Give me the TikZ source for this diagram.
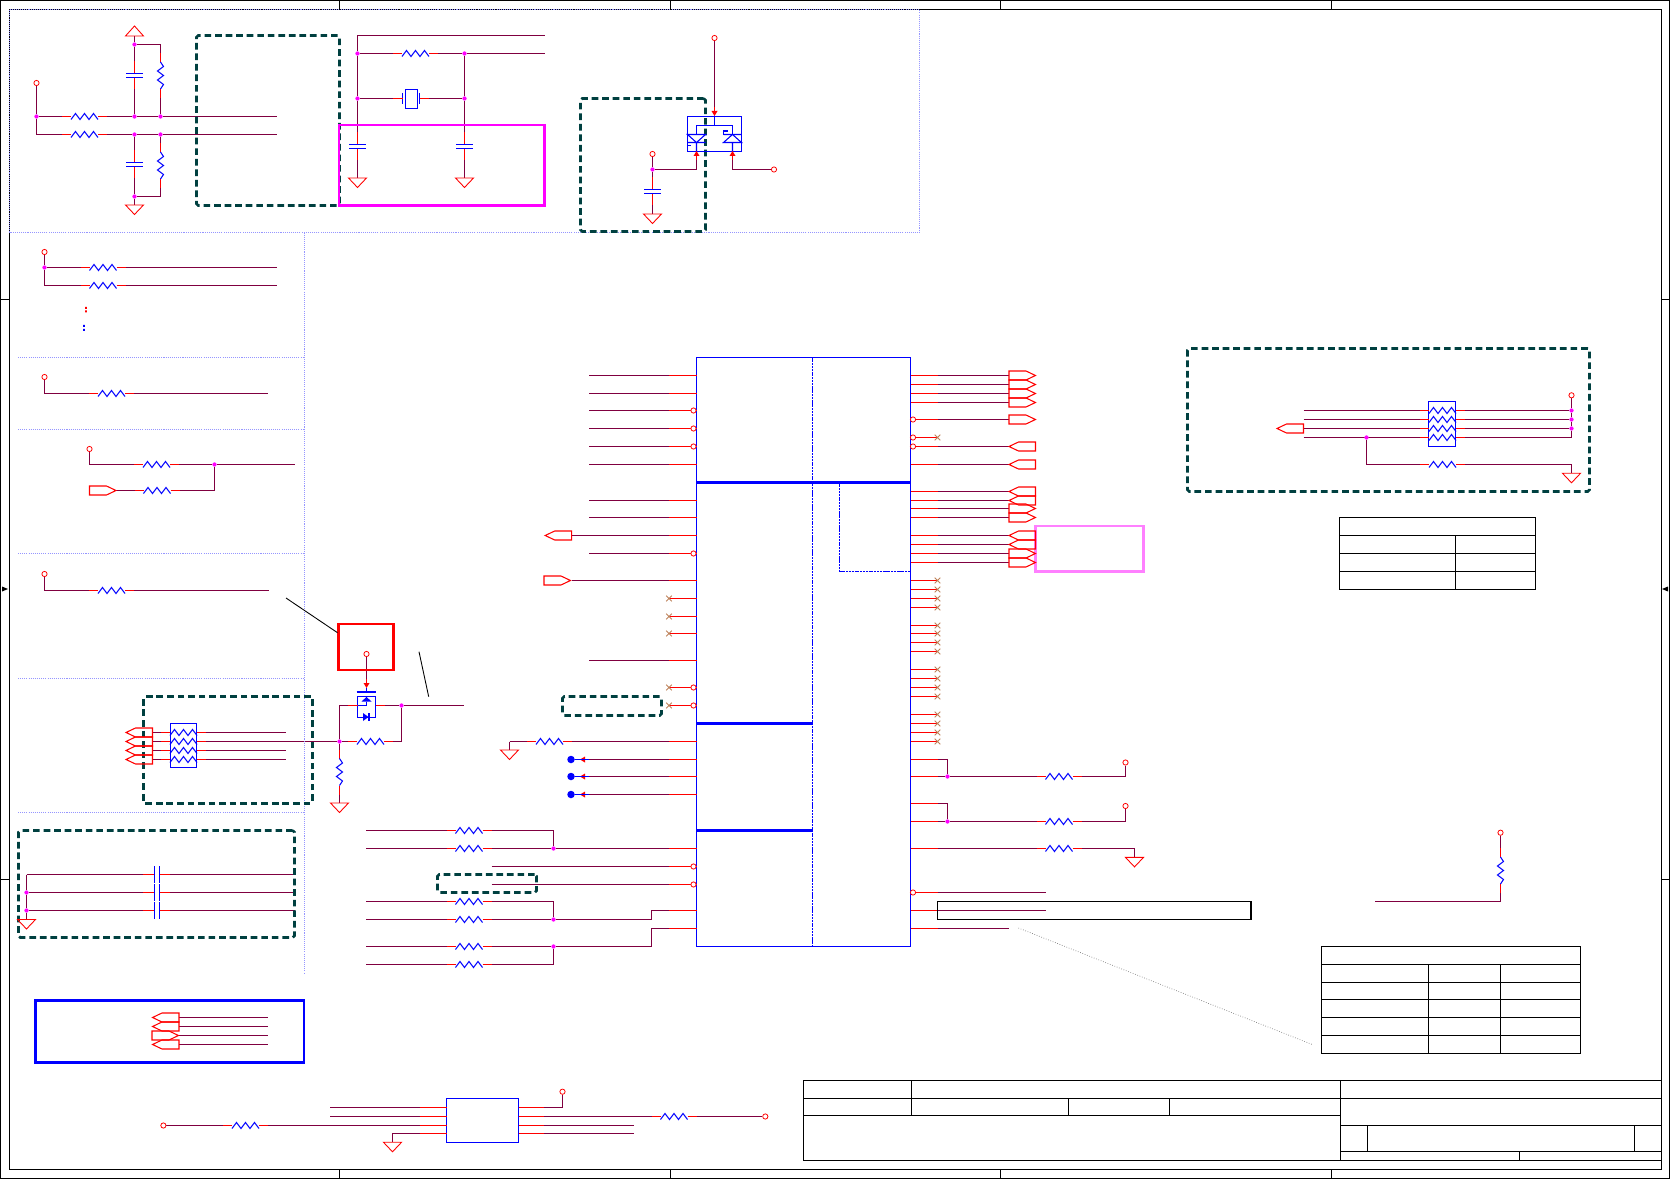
\documentclass[tikz,border=0pt]{standalone}
\usepackage{xcolor}
\usepackage{tikz}
\definecolor{wirec} {RGB} {128, 0, 64}
\definecolor{dashc} {RGB} {0, 64, 64}
\definecolor{dotc} {RGB} {150, 150, 255}
\definecolor{magc} {RGB} {255, 0, 255}
\definecolor{pinkc} {RGB} {255, 128, 255}
\definecolor{ncc} {RGB} {190, 130, 90}
\usetikzlibrary{fit,backgrounds}
\tikzstyle{sch}=[x=0.02cm, y=-0.02cm]
\tikzstyle{wire}=[line width=0.6pt, wirec]
\tikzstyle{pinw}=[line width=0.6pt, red]
\tikzstyle{partl}=[line width=0.6pt, blue]
\tikzstyle{blackl}=[line width=0.6pt, black]
\tikzstyle{dotl}=[line width=0.6pt, dotc, dash pattern=on 0.6pt off 0.6pt]
\tikzstyle{junct}=[circle, fill=magc, inner sep=0pt, minimum size=0.085cm]
\tikzstyle{term}=[circle, draw=red, fill=white, line width=0.45pt, inner sep=0pt, minimum size=0.105cm]
\tikzstyle{bdot}=[circle, fill=blue, inner sep=0pt, minimum size=0.15cm]
\tikzstyle{bbox}=[draw, inner sep=0pt, outer sep=0pt]
\tikzstyle{framebox}=[bbox, line width=0.6pt, black]
\tikzstyle{chipbox}=[bbox, line width=0.6pt, blue]
\tikzstyle{dashbox}=[bbox, line width=1.5pt, dashc, dash pattern=on 3.8pt off 2.2pt, rounded corners=1pt]
\tikzstyle{hotbox}=[bbox, line width=1.7pt]
\tikzset{
  pics/hres/.style={code={
    \draw [pinw] (-22.5,0) -- (-13.5,0) (13.5,0) -- (22.5,0);
    \draw [partl] (-13.5,3) -- (-9,-3) -- (-4.5,3) -- (0,-3) -- (4.5,3) -- (9,-3) -- (13.5,3);
    \coordinate (-a) at (-22.5,0);
    \coordinate (-b) at (22.5,0);
  }},
  pics/vres/.style={code={
    \draw [pinw] (0,-22.5) -- (0,-13.5) (0,13.5) -- (0,22.5);
    \draw [partl] (0,-13.5) -- (3,-9) -- (-3,-4.5) -- (3,0) -- (-3,4.5) -- (3,9) -- (0,13.5);
    \coordinate (-a) at (0,-22.5);
    \coordinate (-b) at (0,22.5);
  }},
  pics/hcap/.style={code={
    \draw [pinw] (0,-14) -- (0,-2) (0,2) -- (0,14);
    \draw [partl] (-8.5,-2.2) -- (8.5,-2.2) (-8.5,2.2) -- (8.5,2.2);
    \coordinate (-a) at (0,-14);
    \coordinate (-b) at (0,14);
  }},
  pics/vcap/.style={code={
    \draw [pinw] (-13.5,0) -- (-2.5,0) (2.5,0) -- (13.5,0);
    \draw [partl] (-2.5,-8.5) -- (-2.5,8.5) (2.5,-8.5) -- (2.5,8.5);
    \coordinate (-a) at (-13.5,0);
    \coordinate (-b) at (13.5,0);
  }},
  pics/gnd/.style={code={
    \draw [line width=0.5pt, red] (-9,0) -- (9,0) -- (0,9.5) -- cycle;
    \coordinate (-t) at (0,0);
  }},
  pics/vcc/.style={code={
    \draw [line width=0.5pt, red] (-9,0) -- (9,0) -- (0,-10) -- cycle;
    \coordinate (-t) at (0,0);
  }},
  pics/portl/.style={code={
    \draw [line width=0.6pt, red] (0,-4.5) -- (-17,-4.5) -- (-26.5,0) -- (-17,4.5) -- (0,4.5) -- cycle;
    \coordinate (-w) at (0,0);
  }},
  pics/portr/.style={code={
    \draw [line width=0.6pt, red] (0,-4.5) -- (17,-4.5) -- (26.5,0) -- (17,4.5) -- (0,4.5) -- cycle;
    \coordinate (-w) at (26.5,0);
  }},
  pics/tipd/.style={code={
    \fill [red] (-3,-5) -- (3,-5) -- (0,0) -- cycle;
    \draw [pinw] (0,-9) -- (0,-4);
    \coordinate (-a) at (0,-9);
  }},
  pics/tipu/.style={code={
    \fill [red] (-3,5) -- (3,5) -- (0,0) -- cycle;
    \draw [pinw] (0,9) -- (0,4);
    \coordinate (-a) at (0,9);
  }},
  pics/tipl/.style={code={
    \fill [red] (0,0) -- (5,-3) -- (5,3) -- cycle;
    \draw [pinw] (4,0) -- (9,0);
    \coordinate (-a) at (9,0);
  }},
  pics/ncx/.style={code={
    \draw [line width=0.45pt, ncc] (-2.8,-2.8) -- (2.8,2.8) (-2.8,2.8) -- (2.8,-2.8);
  }}
}
\begin{document}
\begin{tikzpicture}[sch]
    \useasboundingbox (0,0) rectangle (1671,1179);
    \node (outer) [framebox, fit={(0.5,0.5)(1669.5,1178.5)}] {};
    \node (inner) [framebox, fit={(9.5,9.5)(1661.5,1169.5)}] {};
    \foreach \xx in {339.5,670.5,1000.5,1331.5} {
      \draw [blackl] (\xx,0.5) -- (\xx,9.5);
      \draw [blackl] (\xx,1169.5) -- (\xx,1178.5);
    }
    \foreach \yy in {299.5,879.5} {
      \draw [blackl] (0.5,\yy) -- (9.5,\yy);
      \draw [blackl] (1661.5,\yy) -- (1669.5,\yy);
    }
    \fill [black] (2,586.5) -- (2,591.5) -- (8,589) -- cycle;
    \fill [black] (1668,586.5) -- (1668,591.5) -- (1662,589) -- cycle;
    \draw [dotl] (9.5,9.5) -- (919.5,9.5) -- (919.5,232.5) -- (9.5,232.5) -- cycle;
    \draw [dotl] (304.5,232.5) -- (304.5,973);
    \foreach \yy in {357.5,429.5,553.5,678.5,812.5} {
      \draw [dotl] (18,\yy) -- (304.5,\yy);
    }
    \node (dash1) [dashbox, fit={(196.5,35.5)(339.5,205.5)}] {};
    \node (hot1) [hotbox, magc, fit={(339,125)(544.6,205.7)}] {};
    \node (dash2) [dashbox, fit={(580.5,98.5)(705.5,231.5)}] {};
    \node (hot2) [hotbox, red, fit={(338.6,624)(393.6,670)}] {};
    \node (dash3) [dashbox, fit={(143.5,696.5)(312.5,803.5)}] {};
    \node (dash4) [dashbox, fit={(18.5,830.5)(294.5,937.5)}] {};
    \node (dash5) [dashbox, fit={(562.5,696.5)(661.5,715.5)}] {};
    \node (dash6) [dashbox, fit={(437.5,874.5)(536.5,892.5)}] {};
    \node (dash7) [dashbox, fit={(1187.5,348.5)(1589.5,491.5)}] {};
    \node (hot3) [hotbox, pinkc, fit={(1035.5,526)(1143.5,571.5)}] {};
    \node (hot4) [hotbox, blue, fit={(35.5,1000.5)(304,1062.5)}] {};
    \pic (pw1) at (134.5,36) {vcc};
    \node (j1) [junct] at (134.5,44.5) {};
    \pic (c1) at (134.5,75.5) {hcap};
    \pic (r1) at (160.5,75.5) {vres};
    \node (t1) [term] at (36.5,83) {};
    \node (j4) [junct] at (36.5,116.5) {};
    \coordinate (k1) at (36.5,134.5);
    \pic (r2) at (84.5,116.5) {hres};
    \pic (r3) at (84.5,134.5) {hres};
    \node (j2) [junct] at (134.5,116.5) {};
    \node (j3) [junct] at (160.5,116.5) {};
    \node (j5) [junct] at (134.5,134.5) {};
    \node (j6) [junct] at (160.5,134.5) {};
    \coordinate (e1) at (277,116.5);
    \coordinate (e2) at (277,134.5);
    \pic (c2) at (134.5,164.5) {hcap};
    \pic (r4) at (160.5,165.5) {vres};
    \node (j7) [junct] at (134.5,196.5) {};
    \pic (g1) at (134.5,205) {gnd};
    \coordinate (e3) at (357.5,35.5);
    \coordinate (e4) at (545,35.5);
    \coordinate (e5) at (545,53.5);
    \node (j8) [junct] at (357.5,53.5) {};
    \node (j9) [junct] at (464.5,53.5) {};
    \node (j10) [junct] at (357.5,98.5) {};
    \node (j11) [junct] at (464.5,98.5) {};
    \pic (r5) at (415.5,53.5) {hres};
    \node (xtal) [chipbox, fit={(405.5,89.5)(417.5,108.5)}] {};
    \draw [partl] (402.5,93) -- (402.5,104) (419.5,93) -- (419.5,104);
    \coordinate (xa) at (393,98.5);
    \coordinate (xb) at (429,98.5);
    \draw [pinw] (xa) -- (402.5,98.5) (419.5,98.5) -- (xb);
    \pic (c3) at (357.5,146.5) {hcap};
    \pic (c4) at (464.5,146.5) {hcap};
    \pic (g2) at (357.5,178) {gnd};
    \pic (g3) at (464.5,178) {gnd};
    \node (t2) [term] at (714.5,38) {};
    \node (sw) [chipbox, fit={(687.5,116.5)(741.5,151.5)}] {};
    \pic (sa) at (714.5,116) {tipd};
    \pic (sb) at (696.5,151) {tipu};
    \pic (sc) at (732.5,151) {tipu};
    \draw [partl] (714.5,116) -- (714.5,125.5) (696.5,134.5) -- (696.5,125.5) -- (732.5,125.5) -- (732.5,134.5);
    \draw [partl] (687.5,134.5) -- (705.5,134.5) -- (696.5,142.5) -- cycle (687.5,142.5) -- (705.5,142.5) (696.5,142.5) -- (696.5,151);
    \draw [partl] (723.5,142.5) -- (741.5,142.5) -- (732.5,134.5) -- cycle (723.5,134.5) -- (741.5,134.5) (732.5,142.5) -- (732.5,151);
    \draw [partl] (687.5,145.5) -- (691,145.5) (728,134.5) -- (723.5,134.5) -- (723.5,131) -- (728,131);
    \node (t3) [term] at (652.5,154) {};
    \node (j12) [junct] at (652.5,169.5) {};
    \node (t4) [term] at (774,169.5) {};
    \pic (c5) at (652.5,191.5) {hcap};
    \pic (g4) at (652.5,214) {gnd};
    \node (t5) [term] at (44.5,252) {};
    \node (j13) [junct] at (44.5,267.5) {};
    \coordinate (k2) at (44.5,285.5);
    \pic (r6) at (103,267.5) {hres};
    \pic (r7) at (103,285.5) {hres};
    \coordinate (e6) at (277,267.5);
    \coordinate (e7) at (277,285.5);
    \fill [red] (85.2,307) rectangle (86.8,309) (85.2,310.5) rectangle (86.8,312.5);
    \fill [blue] (83.2,325) rectangle (84.8,327) (83.2,329) rectangle (84.8,331);
    \node (t6) [term] at (44.5,377) {};
    \coordinate (k3) at (44.5,393.5);
    \pic (r8) at (111.5,393.5) {hres};
    \coordinate (e8) at (268,393.5);
    \node (t7) [term] at (89.5,449) {};
    \coordinate (k4) at (89.5,464.5);
    \pic (r9) at (156.5,464.5) {hres};
    \node (j14) [junct] at (214.5,464.5) {};
    \coordinate (e9) at (295,464.5);
    \pic (p1) at (89.5,490.5) {portr};
    \pic (r10) at (157,490.5) {hres};
    \node (t8) [term] at (44.5,574) {};
    \coordinate (k5) at (44.5,590.5);
    \pic (r11) at (111.5,590.5) {hres};
    \coordinate (e10) at (268.5,590.5);
    \coordinate (n1a) at (286,598);
    \coordinate (n1b) at (337.5,632.7);
    \coordinate (n2a) at (419,651.7);
    \coordinate (n2b) at (428.7,696.7);
    \draw [black, line width=0.5pt] (n1a) -- (n1b);
    \draw [black, line width=0.5pt] (n2a) -- (n2b);
    \node (t9) [term] at (366.5,654) {};
    \pic (qa) at (366.5,688) {tipd};
    \draw [partl, line width=0.8pt] (356.7,692) -- (375.7,692) (366.5,688) -- (366.5,692);
    \node (qb) [chipbox, fit={(357.5,696.5)(375.5,717.5)}] {};
    \fill [blue] (361.5,701.5) -- (371.5,701.5) -- (366.5,697) -- cycle;
    \fill [blue] (363,713) -- (363,721) -- (368.5,717) -- cycle;
    \draw [partl] (366.5,701.5) -- (366.5,705.5) -- (358,705.5) (369,713) -- (369,721);
    \coordinate (qc) at (348,705.5);
    \coordinate (qd) at (385,705.5);
    \draw [pinw] (qc) -- (357.5,705.5) (375.5,705.5) -- (qd);
    \coordinate (k6) at (339.5,705.5);
    \node (j15) [junct] at (401.5,705.5) {};
    \coordinate (e11) at (464,705.5);
    \coordinate (k7) at (401.5,741.5);
    \node (j16) [junct] at (339.5,741.5) {};
    \pic (r12) at (370.5,741.5) {hres};
    \pic (r13) at (339.5,772) {vres};
    \pic (g5) at (339.5,803) {gnd};
    \node (rn1) [chipbox, fit={(170.5,723.5)(196.5,767.5)}] {};
    \foreach \yy [count=\n] in {732.5,741.5,750.5,759.5} {
      \pic (ra\n) at (183.5,\yy) {hres};
      \pic (pa\n) at (152.5,\yy) {portl};
    }
    \coordinate (e12) at (286,732.5);
    \coordinate (e13) at (286,750.5);
    \coordinate (e14) at (286,759.5);
    \foreach \yy/\nm in {874.5/a,892.5/b,910.5/c} {
      \pic (cp\nm) at (156.8,\yy) {vcap};
      \coordinate (cl\nm) at (26.5,\yy);
      \coordinate (cr\nm) at (294.5,\yy);
    }
    \node (j17) [junct] at (26.5,892.5) {};
    \node (j18) [junct] at (26.5,910.5) {};
    \pic (g6) at (26.5,919.5) {gnd};
    \foreach \yy [count=\n] in {830.5,848.5,901.5,919.5,946.5,964.5} {
      \pic (rb\n) at (469,\yy) {hres};
      \coordinate (sb\n) at (366,\yy);
    }
    \node (j19) [junct] at (553.5,848.5) {};
    \node (j20) [junct] at (553.5,919.5) {};
    \node (j21) [junct] at (553.5,946.5) {};
    \coordinate (k8) at (553.5,830.5);
    \coordinate (k9) at (553.5,901.5);
    \coordinate (k10) at (553.5,964.5);
    \node (chip) [chipbox, fit={(696.5,357.5)(910.5,946.5)}] {};
    \draw [blue, line width=0.6pt, dash pattern=on 1.2pt off 0.4pt] (812.5,357.5) -- (812.5,946.5);
    \draw [blue, line width=0.6pt, dash pattern=on 1.2pt off 0.4pt] (839.5,482.5) -- (839.5,571.5) -- (910.5,571.5);
    \draw [blue, line width=1.35pt] (696.5,482.5) -- (910.5,482.5);
    \draw [blue, line width=1.35pt] (696.5,723.5) -- (812.5,723.5);
    \draw [blue, line width=1.35pt] (696.5,830.5) -- (812.5,830.5);
    \foreach \n/\yy/\xx in {1/375.5/589,2/393.5/589,3/410.5/589,4/428.5/589,5/446.5/589,6/464.5/589,
      7/500.5/589,8/517.5/589,9/535.5/571.7,10/553.5/589,11/580.5/571.7,12/598.5/669,13/616.5/669,
      14/633.5/669,15/660.5/589,16/687.5/669,17/705.5/669,18/741.5/669,19/759.5/669,20/776.5/669,
      21/794.5/669,22/848.5/669,23/866.5/491.5,24/884.5/491.5,25/910.5/669,26/928.5/669} {
      \coordinate (lr\n) at (669,\yy);
      \coordinate (ls\n) at (\xx,\yy);
      \draw [wire] (ls\n) -- (lr\n);
      \draw [pinw] (lr\n) -- (lr\n -| chip.west);
    }
    \foreach \n in {12,13,14,16,17} {
      \pic at (lr\n) {ncx};
    }
    \foreach \n/\yy in {3/410.5,4/428.5,5/446.5,10/553.5,16/687.5,17/705.5,23/866.5,24/884.5} {
      \node (lc\n) [term] at (693.5,\yy) {};
    }
    \pic (pl1) at (571.7,535.5) {portl};
    \pic (pl2) at (544,580.5) {portr};
    \pic (g7) at (509.5,750) {gnd};
    \coordinate (k11) at (509.5,741.5);
    \pic (r14) at (549.5,741.5) {hres};
    \foreach \yy [count=\n] in {759.5,776.5,794.5} {
      \node (bd\n) [bdot] at (571,\yy) {};
      \pic (tl\n) at (580,\yy) {tipl};
      \draw [partl] (bd\n) -- (tl\n-a);
    }
    \coordinate (k12) at (651.5,919.5);
    \coordinate (k13) at (651.5,910.5);
    \coordinate (k14) at (651.5,946.5);
    \coordinate (k15) at (651.5,928.5);
    \foreach \n/\yy/\xx in {1/375.5/1009,2/384.5/1009,3/393.5/1009,4/402.5/1009,5/419.5/1009,6/437.5/937.5,
      7/446.5/1009,8/464.5/1009,9/491.5/1009,10/500.5/1009,11/508.5/1009,12/517.5/1009,13/535.5/1009,
      14/544.5/1009,15/553.5/1009,16/562.5/1009,17/580.5/937.5,18/589.5/937.5,19/598.5/937.5,20/607.5/937.5,
      21/625.5/937.5,22/633.5/937.5,23/642.5/937.5,24/651.5/937.5,25/669.5/937.5,26/678.5/937.5,27/687.5/937.5,
      28/696.5/937.5,29/714.5/937.5,30/723.5/937.5,31/732.5/937.5,32/741.5/937.5,33/759.5/937.5,34/776.5/937.5,
      35/803.5/937.5,36/821.5/937.5,37/848.5/937.5,38/892.5/1046,39/910.5/1046,40/928.5/1009} {
      \coordinate (rr\n) at (937.5,\yy);
      \coordinate (rs\n) at (\xx,\yy);
      \draw [wire] (rr\n) -- (rs\n);
      \draw [pinw] (rr\n -| chip.east) -- (rr\n);
    }
    \foreach \n in {6,17,18,19,20,21,22,23,24,25,26,27,28,29,30,31,32} {
      \pic at (rr\n) {ncx};
    }
    \foreach \n/\yy in {5/419.5,6/437.5,7/446.5,38/892.5} {
      \node (rc\n) [term] at (913,\yy) {};
    }
    \foreach \n in {1,2,3,4,5,11,12,15,16} {
      \pic (pr\n) at (rs\n) {portr};
    }
    \foreach \n in {7,8,9,10,13,14} {
      \pic (pq\n) at (1035.5,0 |- rs\n) {portl};
    }
    \coordinate (k16) at (947.5,759.5);
    \node (j22) [junct] at (947.5,776.5) {};
    \pic (r15) at (1059,776.5) {hres};
    \coordinate (k17) at (1125.5,776.5);
    \node (t10) [term] at (1125.5,762.5) {};
    \coordinate (k18) at (947.5,803.5);
    \node (j23) [junct] at (947.5,821.5) {};
    \pic (r16) at (1059,821.5) {hres};
    \coordinate (k19) at (1125.5,821.5);
    \node (t11) [term] at (1125.5,806) {};
    \pic (r17) at (1059,848.5) {hres};
    \coordinate (k20) at (1134.5,848.5);
    \pic (g8) at (1134.5,857.4) {gnd};
    \node (note1) [framebox, fit={(937.5,901.5)(1251,919.5)}] {};
    \coordinate (n3a) at (1018.4,928);
    \coordinate (n3b) at (1312.7,1044.7);
    \draw [gray, line width=0.4pt, densely dotted] (n3a) -- (n3b);
    \node (rn2) [chipbox, fit={(1428.5,401.5)(1455.5,446.5)}] {};
    \foreach \yy [count=\n] in {410.5,419.5,428.5,437.5} {
      \pic (rc\n) at (1442.5,\yy) {hres};
      \coordinate (sc\n) at (1303.5,\yy);
      \coordinate (ec\n) at (1571.5,\yy);
    }
    \node (t12) [term] at (1571.5,395.3) {};
    \node (j24) [junct] at (1571.5,410.5) {};
    \node (j25) [junct] at (1571.5,419.5) {};
    \node (j26) [junct] at (1571.5,428.5) {};
    \pic (p9) at (1303.5,428.5) {portl};
    \node (j27) [junct] at (1366.5,437.5) {};
    \coordinate (k21) at (1366.5,464.5);
    \pic (r18) at (1442.5,464.5) {hres};
    \coordinate (k22) at (1571.5,464.5);
    \pic (g9) at (1571.5,473.3) {gnd};
    \node (tab1) [framebox, fit={(1339.5,517.5)(1535.5,589.5)}] {};
    \draw [blackl] (1339.5,535.5) -- (1535.5,535.5) (1339.5,553.5) -- (1535.5,553.5) (1339.5,571.5) -- (1535.5,571.5);
    \draw [blackl] (1455.5,535.5) -- (1455.5,589.5);
    \node (tab2) [framebox, fit={(1321.5,946.5)(1580.5,1053.5)}] {};
    \foreach \yy in {964.5,982.5,999.5,1017.5,1035.5} {
      \draw [blackl] (1321.5,\yy) -- (1580.5,\yy);
    }
    \draw [blackl] (1428.5,964.5) -- (1428.5,1053.5) (1500.5,964.5) -- (1500.5,1053.5);
    \node (t13) [term] at (1500.5,832.7) {};
    \pic (r19) at (1500.5,870.5) {vres};
    \coordinate (k23) at (1500.5,901.5);
    \coordinate (e15) at (1375,901.5);
    \node (title) [framebox, fit={(803.5,1080.5)(1661.5,1160.5)}] {};
    \draw [blackl] (803.5,1098.5) -- (1661.5,1098.5) (803.5,1115.5) -- (1340.5,1115.5);
    \draw [blackl] (911.5,1080.5) -- (911.5,1115.5) (1068.5,1098.5) -- (1068.5,1115.5) (1169.5,1098.5) -- (1169.5,1115.5);
    \draw [blackl] (1340.5,1080.5) -- (1340.5,1160.5) (1340.5,1125.5) -- (1661.5,1125.5) (1340.5,1151.5) -- (1661.5,1151.5);
    \draw [blackl] (1367.5,1125.5) -- (1367.5,1151.5) (1634.5,1125.5) -- (1634.5,1151.5) (1519.5,1151.5) -- (1519.5,1160.5);
    \foreach \yy/\nm in {1017.5/a,1026.5/b,1044.5/d} {
      \pic (ps\nm) at (179,\yy) {portl};
      \coordinate (es\nm) at (268,\yy);
    }
    \pic (psc) at (152,1035.5) {portr};
    \coordinate (esc) at (268,1035.5);
    \node (ic1) [chipbox, fit={(446.5,1098.5)(518.5,1142.5)}] {};
    \foreach \yy [count=\n] in {1107.5,1116.5,1125.5,1133.5} {
      \coordinate (il\n) at (419.7,\yy);
      \coordinate (ir\n) at (544,\yy);
      \draw [pinw] (il\n) -- (il\n -| ic1.west);
      \draw [pinw] (ir\n -| ic1.east) -- (ir\n);
    }
    \coordinate (s1) at (330.3,1107.5);
    \coordinate (s2) at (330.3,1116.5);
    \node (t14) [term] at (163.4,1125.5) {};
    \pic (r20) at (245.5,1125.5) {hres};
    \coordinate (k24) at (392.5,1133.5);
    \pic (g10) at (392.5,1142.3) {gnd};
    \coordinate (k25) at (562.5,1107.5);
    \node (t15) [term] at (562.5,1091.7) {};
    \pic (r21) at (674,1116.5) {hres};
    \node (t16) [term] at (765.3,1116.5) {};
    \coordinate (s3) at (634,1125.5);
    \coordinate (s4) at (634,1133.5);
    \begin{scope}[on background layer]
    \draw [wire] (pw1-t) -- (j1) -- (c1-a);
    \draw [wire] (c1-b) -- (j2);
    \draw [wire] (j1) -| (r1-a);
    \draw [wire] (r1-b) -- (j3);
    \draw [wire] (t1) -- (j4) -- (k1) -- (r3-a);
    \draw [wire] (j4) -- (r2-a);
    \draw [wire] (r2-b) -- (j2) -- (j3) -- (e1);
    \draw [wire] (r3-b) -- (j5) -- (j6) -- (e2);
    \draw [wire] (j5) -- (c2-a);
    \draw [wire] (c2-b) -- (j7) -- (g1-t);
    \draw [wire] (r4-a) -- (j6);
    \draw [wire] (r4-b) |- (j7);
    \draw [wire] (e3) -- (e4);
    \draw [wire] (e3) -- (j8) -- (j10) -- (c3-a);
    \draw [wire] (c3-b) -- (g2-t);
    \draw [wire] (j8) -- (r5-a);
    \draw [wire] (r5-b) -- (j9) -- (e5);
    \draw [wire] (j9) -- (j11) -- (c4-a);
    \draw [wire] (c4-b) -- (g3-t);
    \draw [wire] (j10) -- (xa);
    \draw [wire] (xb) -- (j11);
    \draw [wire] (t2) -- (sa-a);
    \draw [wire] (t3) -- (j12) -- (c5-a);
    \draw [wire] (c5-b) -- (g4-t);
    \draw [wire] (j12) -| (sb-a);
    \draw [wire] (sc-a) |- (t4);
    \draw [wire] (t5) -- (j13) -- (k2) -- (r7-a);
    \draw [wire] (j13) -- (r6-a);
    \draw [wire] (r6-b) -- (e6);
    \draw [wire] (r7-b) -- (e7);
    \draw [wire] (t6) -- (k3) -- (r8-a);
    \draw [wire] (r8-b) -- (e8);
    \draw [wire] (t7) -- (k4) -- (r9-a);
    \draw [wire] (r9-b) -- (j14) -- (e9);
    \draw [wire] (p1-w) -- (r10-a);
    \draw [wire] (r10-b) -| (j14);
    \draw [wire] (t8) -- (k5) -- (r11-a);
    \draw [wire] (r11-b) -- (e10);
    \draw [wire] (t9) -- (qa-a);
    \draw [wire] (j16) -- (k6) -- (qc);
    \draw [wire] (qd) -- (j15) -- (e11);
    \draw [wire] (j15) -- (k7) -- (r12-b);
    \draw [wire] (r12-a) -- (j16);
    \draw [wire] (j16) -- (r13-a);
    \draw [wire] (r13-b) -- (g5-t);
    \draw [wire] (pa1-w) -- (ra1-a) (pa2-w) -- (ra2-a) (pa3-w) -- (ra3-a) (pa4-w) -- (ra4-a);
    \draw [wire] (ra1-b) -- (e12);
    \draw [wire] (ra2-b) -- (j16);
    \draw [wire] (ra3-b) -- (e13);
    \draw [wire] (ra4-b) -- (e14);
    \draw [wire] (cla) -- (j17) -- (j18) -- (g6-t);
    \draw [wire] (cla) -- (cpa-a) (cpa-b) -- (cra);
    \draw [wire] (j17) -- (cpb-a) (cpb-b) -- (crb);
    \draw [wire] (j18) -- (cpc-a) (cpc-b) -- (crc);
    \foreach \n in {1,...,6} {
      \draw [wire] (sb\n) -- (rb\n-a);
    }
    \draw [wire] (rb1-b) -- (k8) -- (j19);
    \draw [wire] (rb2-b) -- (j19) -- (lr22);
    \draw [wire] (rb3-b) -- (k9) -- (j20);
    \draw [wire] (rb4-b) -- (j20) -- (k12) -- (k13) -- (lr25);
    \draw [wire] (rb5-b) -- (j21) -- (k14) -- (k15) -- (lr26);
    \draw [wire] (rb6-b) -- (k10) -- (j21);
    \draw [wire] (k11) -- (g7-t);
    \draw [wire] (k11) -- (r14-a);
    \draw [wire] (r14-b) -- (lr18);
    \draw [wire] (tl1-a) -- (lr19);
    \draw [wire] (tl2-a) -- (lr20);
    \draw [wire] (tl3-a) -- (lr21);
    \draw [wire] (rr33) -- (k16) -- (j22);
    \draw [wire] (rr34) -- (j22) -- (r15-a);
    \draw [wire] (r15-b) -- (k17) -- (t10);
    \draw [wire] (rr35) -- (k18) -- (j23);
    \draw [wire] (rr36) -- (j23) -- (r16-a);
    \draw [wire] (r16-b) -- (k19) -- (t11);
    \draw [wire] (rr37) -- (r17-a);
    \draw [wire] (r17-b) -- (k20) -- (g8-t);
    \foreach \n in {1,...,4} {
      \draw [wire] (sc\n) -- (rc\n-a);
    }
    \draw [wire] (rc1-b) -- (j24);
    \draw [wire] (rc2-b) -- (j25);
    \draw [wire] (rc3-b) -- (j26);
    \draw [wire] (rc4-b) -- (ec4);
    \draw [wire] (t12) -- (j24) -- (j25) -- (j26) -- (ec4);
    \draw [wire] (j27) -- (k21) -- (r18-a);
    \draw [wire] (r18-b) -- (k22) -- (g9-t);
    \draw [wire] (t13) -- (r19-a);
    \draw [wire] (r19-b) -- (k23) -- (e15);
    \draw [wire] (psa-w) -- (esa);
    \draw [wire] (psb-w) -- (esb);
    \draw [wire] (psc-w) -- (esc);
    \draw [wire] (psd-w) -- (esd);
    \draw [wire] (s1) -- (il1);
    \draw [wire] (s2) -- (il2);
    \draw [wire] (t14) -- (r20-a);
    \draw [wire] (r20-b) -- (il3);
    \draw [wire] (il4) -- (k24) -- (g10-t);
    \draw [wire] (ir1) -- (k25) -- (t15);
    \draw [wire] (ir2) -- (r21-a);
    \draw [wire] (r21-b) -- (t16);
    \draw [wire] (ir3) -- (s3);
    \draw [wire] (ir4) -- (s4);
    \end{scope}
\end{tikzpicture}
\end{document}
